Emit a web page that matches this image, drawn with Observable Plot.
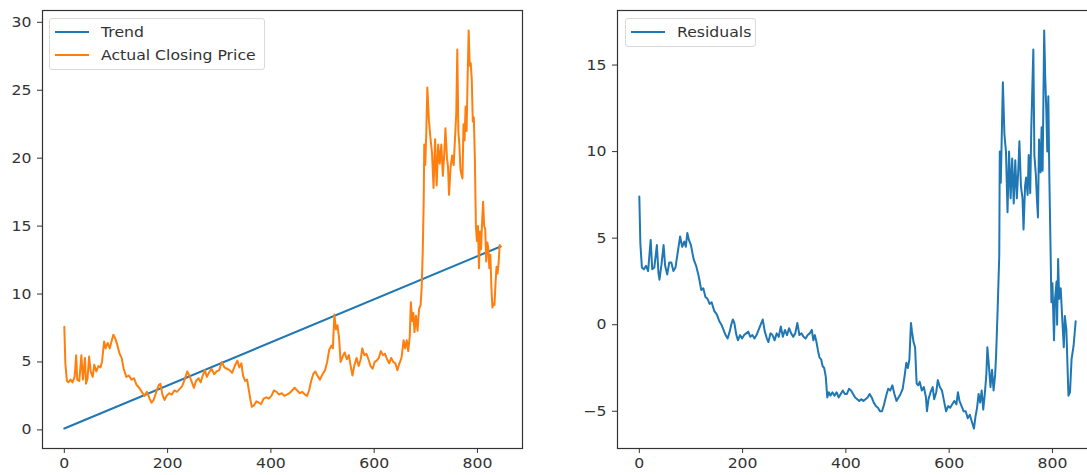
<!DOCTYPE html>
<html>
<head>
<meta charset="utf-8">
<script src="https://cdn.jsdelivr.net/npm/d3@7"></script>
<script src="https://cdn.jsdelivr.net/npm/@observablehq/plot@0.6"></script>
<style>
  html, body { margin: 0; padding: 0; background: #fff; overflow: hidden; }
  #wrap { position: relative; width: 1087px; height: 475px; overflow: hidden; background: #fff; }
  .panel { position: absolute; top: 0; }
  .legend { position: absolute; border: 1px solid #d9d9d9; border-radius: 3px; background: rgba(255,255,255,0.85); box-sizing: border-box; }
  .swatch { position: absolute; height: 2px; }
  .ltext { position: absolute; font-family: "DejaVu Sans", sans-serif; font-size: 14px; color: #333; line-height: 16px; white-space: nowrap; transform: scaleX(1.12); transform-origin: left center; }
</style>
</head>
<body>
<div id="wrap"></div>
<script>
// ---------- data ----------
const priceDay = [0,2,5,8,12,16,20,23,25,29,33,36,40,42,45,48,51,55,58,62,66,70,73,77,80,84,88,92,95,99,103,107,111,115,120,125,130,135,140,145,150,155,160,165,169,173,178,183,186,190,194,198,203,208,213,218,223,228,233,238,242,246,251,255,260,264,268,272,276,280,285,290,295,300,305,310,315,320,325,330,335,339,343,346,350,354,357,360,363,367,372,377,381,386,391,396,401,406,411,416,421,426,431,436,441,446,451,456,461,466,470,474,478,482,486,490,495,500,505,509,513,517,520,523,526,529,532,535,539,543,547,551,555,558,562,566,570,574,577,581,585,589,593,597,601,605,609,613,617,621,625,629,633,637,641,645,649,653,657,660,663,666,669,671,674,676,678,681,684,687,690,692,694,696,697,699,701,703,706,709,712,715,718,721,724,727,730,733,736,738,741,743,745,748,751,754,757,759,761,763,765,767,769,771,773,775,777,779,781,783,785,787,789,791,793,795,797,799,801,803,805,807,809,811,813,815,817,819,821,823,825,827,829,831,833,835,837,839,841,843,845];
const closingPrice = [7.6,4.9,3.6,3.5,3.7,3.5,3.9,5.5,3.7,3.6,5.5,3.7,5.3,3.4,3.8,5.4,4.3,3.9,4.8,4.3,4.7,4.6,5.0,6.5,6.0,6.4,6.0,6.6,7.0,6.7,6.2,5.6,5.3,4.5,3.9,4.0,3.7,3.8,3.3,3.1,2.8,2.5,2.8,2.3,2.0,2.2,2.8,3.3,3.4,2.6,2.2,2.5,2.7,2.6,2.9,2.8,3.0,3.2,3.7,4.3,4.0,3.6,3.1,3.6,3.8,3.5,4.0,4.4,3.9,4.2,4.5,4.1,4.3,4.4,5.0,4.6,4.5,4.4,4.2,4.7,5.1,4.6,4.9,4.0,3.6,3.7,3.0,2.3,1.7,1.8,2.1,2.0,1.9,2.3,2.4,2.3,2.5,2.9,2.8,2.6,2.7,2.5,2.6,2.7,2.9,3.1,2.9,2.7,2.8,2.6,2.5,2.9,3.6,4.1,4.3,4.0,3.7,4.1,4.4,5.0,5.9,6.2,6.0,8.5,7.4,7.7,6.8,5.0,5.4,5.7,5.2,5.5,4.6,4.0,4.8,5.3,4.7,5.2,6.0,5.5,5.6,5.2,4.7,4.5,5.0,5.1,5.3,5.8,5.5,5.6,5.2,4.9,5.3,5.0,4.9,4.4,4.9,5.3,6.6,6.0,6.6,5.8,6.9,9.4,8.0,8.6,7.2,8.4,7.3,8.9,9.2,10.5,13.0,17.0,21.0,19.5,22.0,25.2,22.8,21.5,20.4,17.8,21.4,18.0,21.0,19.6,21.0,18.7,20.5,22.2,20.0,19.4,17.3,19.3,20.2,19.5,21.8,23.3,28.0,22.0,21.0,19.2,18.8,18.5,22.5,21.3,23.8,22.0,26.0,29.4,26.8,27.0,25.8,22.7,23.0,20.0,15.0,13.9,15.0,11.9,14.6,13.3,15.3,16.8,15.0,14.8,12.4,13.8,13.4,11.9,12.9,10.5,9.0,9.3,9.2,10.8,12.0,11.5,12.3,13.6,13.5];

const trendDay = [0, 845];
const trendValue = [0.1, 13.5];

const residualDay = [0,2,5,9,13,17,22,25,29,34,37,39,43,47,50,54,58,62,66,70,74,79,83,87,90,93,96,100,105,110,115,120,124,128,132,136,140,145,150,155,159,163,167,171,175,178,181,184,188,191,195,199,203,207,211,215,219,223,227,231,235,239,243,247,250,254,258,262,266,270,274,278,282,286,290,294,298,302,306,310,314,318,322,326,330,334,337,340,343,346,349,352,355,358,361,364,367,370,374,378,382,386,390,394,398,402,406,410,414,418,422,426,430,434,438,442,446,450,454,458,462,466,470,474,478,482,486,490,494,498,502,506,510,514,517,520,523,526,528,531,534,537,540,543,547,551,555,557,560,564,568,571,575,578,582,586,590,594,598,602,606,610,614,617,620,624,628,632,636,640,644,648,651,654,657,660,663,666,669,672,674,677,680,683,686,689,691,694,697,698,700,704,707,710,713,716,719,722,725,728,731,734,736,739,742,744,747,749,752,754,757,759,763,765,768,770,772,774,777,779,781,784,786,788,790,792,794,796,798,800,803,805,808,809,811,813,816,819,822,824,827,831,834,837,841,845];
const residualValue = [7.4,4.7,3.3,3.2,3.4,3.1,4.9,3.2,3.3,4.6,3.0,2.6,3.5,4.6,3.4,2.9,3.6,3.6,3.1,3.3,4.1,5.1,4.5,4.8,4.5,5.3,4.9,4.6,3.8,3.4,2.8,2.0,2.1,1.6,1.5,1.2,1.3,0.8,0.6,0.2,0.0,-0.3,-0.6,-0.8,-0.4,0.0,0.3,0.1,-0.6,-0.9,-0.6,-0.8,-0.6,-0.5,-0.4,-0.7,-0.6,-0.8,-0.6,-0.3,0.0,0.3,-0.4,-0.8,-1.0,-0.5,-0.6,-0.9,-0.5,-0.7,-0.1,-0.7,-0.3,-0.6,-0.2,-0.5,-0.7,-0.5,0.1,-0.6,-0.5,-0.7,-0.8,-0.6,-0.5,-0.3,-0.9,-0.6,-1.0,-1.5,-1.9,-2.0,-2.4,-2.5,-3.0,-4.2,-3.9,-4.1,-3.9,-4.1,-3.9,-4.2,-4.0,-3.8,-4.0,-4.0,-3.7,-3.8,-4.0,-4.2,-4.3,-4.4,-4.3,-4.4,-4.3,-4.2,-4.0,-4.2,-4.5,-4.7,-4.8,-5.0,-5.0,-4.6,-4.1,-3.7,-3.8,-3.5,-4.0,-4.4,-4.2,-4.0,-3.7,-2.9,-2.2,-2.5,-2.0,0.1,-0.4,-1.0,-1.3,-3.4,-3.5,-3.3,-3.8,-3.6,-4.2,-5.0,-4.3,-3.9,-3.6,-4.3,-3.9,-3.2,-3.6,-3.8,-4.4,-5.0,-4.7,-4.8,-4.6,-4.4,-4.6,-3.9,-4.4,-4.7,-5.0,-5.0,-5.4,-5.2,-5.6,-6.0,-5.3,-4.8,-4.0,-4.5,-3.8,-4.9,-4.0,-2.9,-1.3,-2.4,-3.6,-2.6,-3.8,-2.9,-1.7,1.0,4.0,10.0,8.2,14.0,11.0,10.0,6.5,10.0,7.3,9.6,7.0,9.5,7.3,9.0,10.6,8.0,7.3,5.5,8.0,8.5,7.5,9.8,7.6,11.3,15.9,9.8,8.6,7.2,6.2,10.7,8.8,11.4,8.9,17.0,14.3,12.5,10.0,13.2,8.5,5.0,1.3,2.4,-0.9,1.5,2.5,0.0,3.8,1.5,2.1,0.3,-1.3,0.5,-0.3,-4.1,-3.9,-2.0,-1.2,0.2];

const xTicks = [0, 200, 400, 600, 800];
const leftYTicks = [0, 5, 10, 15, 20, 25, 30];
const rightYTicks = [-5, 0, 5, 10, 15];
const leftLegend = ["Trend", "Actual Closing Price"];
const rightLegend = ["Residuals"];

// ---------- build ----------
const BLUE = "#1f77b4", ORANGE = "#ff7f0e";
const price = priceDay.map((d, i) => ({day: d, value: closingPrice[i]}));
const trend = trendDay.map((d, i) => ({day: d, value: trendValue[i]}));
const resid = residualDay.map((d, i) => ({day: d, value: residualValue[i]}));

const fmt = d => d < 0 ? "\u2212" + Math.abs(d) : String(d);
const xDomain = [-42.25, 887.25];
const style = {fontFamily: "DejaVu Sans, sans-serif", fontSize: "14px", color: "#333", background: "white", overflow: "visible"};

const wrap = document.getElementById("wrap");

// the reference is slightly stretched horizontally: widen tick labels around their own anchor
function stretchText(svg, k) {
  svg.querySelectorAll("text").forEach(t => {
    let x = parseFloat(t.getAttribute("x"));
    if (!isFinite(x)) x = 0;
    const tr = t.getAttribute("transform") || "";
    t.setAttribute("transform", (tr + ` translate(${x},0) scale(${k},1) translate(${-x},0)`).trim());
  });
}

const left = Plot.plot({
  width: 560, height: 475,
  marginTop: 10, marginBottom: 27, marginLeft: 42, marginRight: 38,
  style,
  x: {domain: xDomain, ticks: xTicks, tickFormat: fmt, tickSize: 5, tickPadding: 5, label: null},
  y: {domain: [-1.37, 30.87], ticks: leftYTicks, tickFormat: fmt, tickSize: 5, tickPadding: 6, label: null},
  marks: [
    Plot.line(trend, {x: "day", y: "value", stroke: BLUE, strokeWidth: 2}),
    Plot.line(price, {x: "day", y: "value", stroke: ORANGE, strokeWidth: 2, strokeLinejoin: "round"}),
    Plot.frame({stroke: "#333", strokeWidth: 1.2})
  ]
});
left.classList.add("panel");
left.style.left = "0px";
wrap.appendChild(left);
stretchText(left, 1.12);

const right = Plot.plot({
  width: 560, height: 475,
  marginTop: 10, marginBottom: 27, marginLeft: 57, marginRight: 23,
  style,
  x: {domain: xDomain, ticks: xTicks, tickFormat: fmt, tickSize: 5, tickPadding: 5, label: null},
  y: {domain: [-7.15, 18.15], ticks: rightYTicks, tickFormat: fmt, tickSize: 5, tickPadding: 6, label: null},
  marks: [
    Plot.line(resid, {x: "day", y: "value", stroke: BLUE, strokeWidth: 2, strokeLinejoin: "round"}),
    Plot.frame({stroke: "#333", strokeWidth: 1.2})
  ]
});
right.classList.add("panel");
right.style.left = "560px";
wrap.appendChild(right);
stretchText(right, 1.12);

// ---------- legends ----------
function legend(x, y, w, labels, colors) {
  const box = document.createElement("div");
  box.className = "legend";
  box.style.left = x + "px"; box.style.top = y + "px";
  box.style.width = w + "px"; box.style.height = (labels.length * 23.3 + 5.2) + "px";
  wrap.appendChild(box);
  labels.forEach((lab, i) => {
    const cy = y + 13.6 + i * 23.3;
    const sw = document.createElement("div");
    sw.className = "swatch";
    sw.style.left = (x + 6) + "px"; sw.style.top = (cy - 1) + "px";
    sw.style.width = "34px"; sw.style.background = colors[i];
    wrap.appendChild(sw);
    const t = document.createElement("div");
    t.className = "ltext";
    t.textContent = lab;
    t.style.left = (x + 52) + "px"; t.style.top = (cy - 8) + "px";
    wrap.appendChild(t);
  });
}
legend(49, 18, 216, leftLegend, [BLUE, ORANGE]);
legend(625, 18, 131, rightLegend, [BLUE]);
</script>
</body>
</html>
